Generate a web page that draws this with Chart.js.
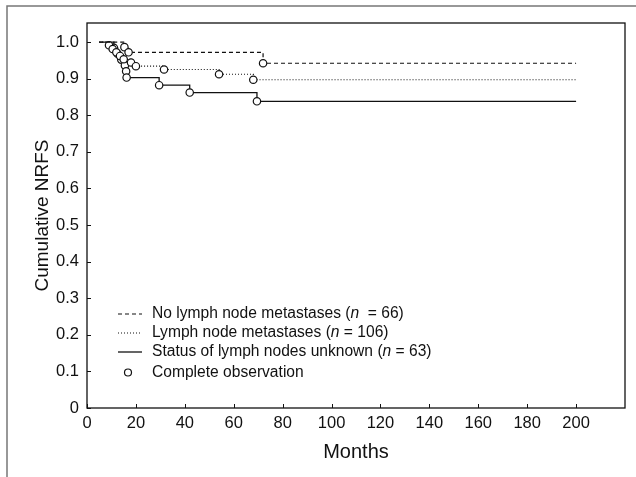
<!DOCTYPE html>
<html>
<head>
<meta charset="utf-8">
<title>Cumulative NRFS</title>
<script src="https://cdn.jsdelivr.net/npm/chart.js@4.4.1/dist/chart.umd.min.js"></script>
<style>
  html, body { margin: 0; padding: 0; background: #fff; }
  #wrap { position: relative; width: 636px; height: 477px; }
</style>
</head>
<body>
<div id="wrap"><canvas id="nrfsChart" width="636" height="477"></canvas></div>
<script>
// Dados (meses / sobrevida acumulada)
const noMetMonths = [5, 15.3, 17, 72, 200];
const noMetSurv   = [1.0, 0.986, 0.972, 0.942, 0.942];

const metMonths = [5, 9, 10.5, 12, 13.5, 15, 18, 20, 31.5, 54, 68, 200];
const metSurv   = [1.0, 0.991, 0.981, 0.972, 0.962, 0.953, 0.944, 0.934, 0.925, 0.912, 0.897, 0.897];

const unkMonths = [5, 11, 12.5, 14, 15.5, 16, 16.2, 29.5, 42, 69.5, 200];
const unkSurv   = [1.0, 0.984, 0.968, 0.952, 0.936, 0.920, 0.903, 0.882, 0.862, 0.838, 0.838];

const xTicks = [0, 20, 40, 60, 80, 100, 120, 140, 160, 180, 200];
const yTicks = [0, 0.1, 0.2, 0.3, 0.4, 0.5, 0.6, 0.7, 0.8, 0.9, 1.0];

const legendItems = [
    { pre: 'No lymph node metastases (', post: '  = 66)', dash: [4, 3] },
    { pre: 'Lymph node metastases (', post: ' = 106)', dash: [1, 2] },
    { pre: 'Status of lymph nodes unknown (', post: ' = 63)', dash: [] },
    { pre: 'Complete observation', post: null, dash: null }
];

const INK = '#111';
const FONT = '"Liberation Sans", Arial, sans-serif';
const LEG_SIZE = 15.6;

function pontos(meses, valores) {
    return meses.map((m, i) => ({ x: m, y: valores[i] }));
}

// Círculo só nos eventos (não no início nem no fim da curva)
function raioEvento(ctx) {
    const n = ctx.dataset.data.length;
    return (ctx.dataIndex === 0 || ctx.dataIndex === n - 1) ? 0 : 3.7;
}

function serie(label, meses, valores, dash, largura) {
    return {
        label: label,
        data: pontos(meses, valores),
        stepped: 'before',
        borderColor: INK,
        borderWidth: largura,
        borderDash: dash,
        fill: false,
        pointRadius: raioEvento,
        pointHoverRadius: raioEvento,
        pointBackgroundColor: '#fff',
        pointBorderColor: INK,
        pointBorderWidth: 1.2
    };
}

// Moldura, caixa do gráfico, marcas internas e legenda
const moldura = {
    id: 'moldura',
    beforeDraw(chart) {
        const ctx = chart.ctx;
        ctx.save();
        ctx.fillStyle = '#fff';
        ctx.fillRect(0, 0, chart.width, chart.height);
        ctx.strokeStyle = '#777';
        ctx.lineWidth = 1.5;
        ctx.beginPath();
        ctx.moveTo(7, 477);
        ctx.lineTo(7, 6);
        ctx.lineTo(636, 6);
        ctx.stroke();
        ctx.restore();
    },
    afterDraw(chart) {
        const ctx = chart.ctx;
        const a = chart.chartArea;
        const sx = chart.scales.x;
        const sy = chart.scales.y;
        ctx.save();
        ctx.strokeStyle = INK;
        ctx.lineWidth = 1.3;
        ctx.strokeRect(a.left, a.top, a.right - a.left, a.bottom - a.top);

        // marcas para dentro
        ctx.lineWidth = 1;
        ctx.beginPath();
        xTicks.forEach(v => {
            const px = Math.round(sx.getPixelForValue(v)) + 0.5;
            ctx.moveTo(px, a.bottom);
            ctx.lineTo(px, a.bottom - 4);
        });
        yTicks.forEach(v => {
            const py = Math.round(sy.getPixelForValue(v)) + 0.5;
            ctx.moveTo(a.left, py);
            ctx.lineTo(a.left + 4, py);
        });
        ctx.stroke();

        // legenda
        const x0 = a.left + 31;
        const x1 = a.left + 55;
        const xt = a.left + 65;
        let y = 313.5;
        ctx.textBaseline = 'middle';
        legendItems.forEach((item, i) => {
            if (i === 3) y += 2;
            ctx.strokeStyle = INK;
            if (item.dash) {
                ctx.setLineDash(item.dash);
                ctx.lineWidth = item.dash.length ? 1.2 : 1.3;
                ctx.beginPath();
                ctx.moveTo(x0, y + 0.5);
                ctx.lineTo(x1, y + 0.5);
                ctx.stroke();
                ctx.setLineDash([]);
            } else {
                ctx.lineWidth = 1.2;
                ctx.fillStyle = '#fff';
                ctx.beginPath();
                ctx.arc(x0 + 10, y, 3.5, 0, Math.PI * 2);
                ctx.fill();
                ctx.stroke();
            }
            ctx.fillStyle = INK;
            ctx.font = LEG_SIZE + 'px ' + FONT;
            let tx = xt;
            ctx.fillText(item.pre, tx, y);
            if (item.post !== null) {
                tx += ctx.measureText(item.pre).width;
                ctx.font = 'italic ' + LEG_SIZE + 'px ' + FONT;
                ctx.fillText('n', tx, y);
                tx += ctx.measureText('n').width;
                ctx.font = LEG_SIZE + 'px ' + FONT;
                ctx.fillText(item.post, tx, y);
            }
            y += 19;
        });
        ctx.restore();
    }
};

document.addEventListener('DOMContentLoaded', () => {
    const canvas = document.getElementById('nrfsChart');
    new Chart(canvas, {
        type: 'line',
        data: {
            datasets: [
                serie('No lymph node metastases (n = 66)', noMetMonths, noMetSurv, [4, 3], 1.2),
                serie('Lymph node metastases (n = 106)', metMonths, metSurv, [1, 2], 1.2),
                serie('Status of lymph nodes unknown (n = 63)', unkMonths, unkSurv, [], 1.3)
            ]
        },
        options: {
            responsive: false,
            animation: false,
            devicePixelRatio: 1,
            layout: { padding: { top: 23, right: 11, left: 0, bottom: 0 } },
            plugins: {
                legend: { display: false },
                tooltip: { enabled: false }
            },
            scales: {
                x: {
                    type: 'linear',
                    min: 0,
                    max: 220,
                    grid: { display: false, drawTicks: false },
                    border: { display: false },
                    afterFit(s) { s.height = 69; },
                    afterBuildTicks(s) { s.ticks = xTicks.map(v => ({ value: v })); },
                    ticks: {
                        padding: 6,
                        color: INK,
                        font: { family: FONT, size: 16.5 },
                        maxRotation: 0,
                        callback: v => String(v)
                    },
                    title: {
                        display: true,
                        text: 'Months',
                        color: INK,
                        font: { family: FONT, size: 20 },
                        padding: { top: 0, bottom: 13 }
                    }
                },
                y: {
                    type: 'linear',
                    min: 0,
                    max: 1.052,
                    grid: { display: false, drawTicks: false },
                    border: { display: false },
                    afterFit(s) { s.width = 87; },
                    afterBuildTicks(s) { s.ticks = yTicks.map(v => ({ value: v })); },
                    ticks: {
                        padding: 8,
                        color: INK,
                        font: { family: FONT, size: 16.5 },
                        callback: v => (v === 0 ? '0' : v.toFixed(1))
                    },
                    title: {
                        display: true,
                        text: 'Cumulative NRFS',
                        color: INK,
                        font: { family: FONT, size: 19 },
                        padding: { top: 31, bottom: 0 }
                    }
                }
            }
        },
        plugins: [moldura]
    });
});
</script>
</body>
</html>
